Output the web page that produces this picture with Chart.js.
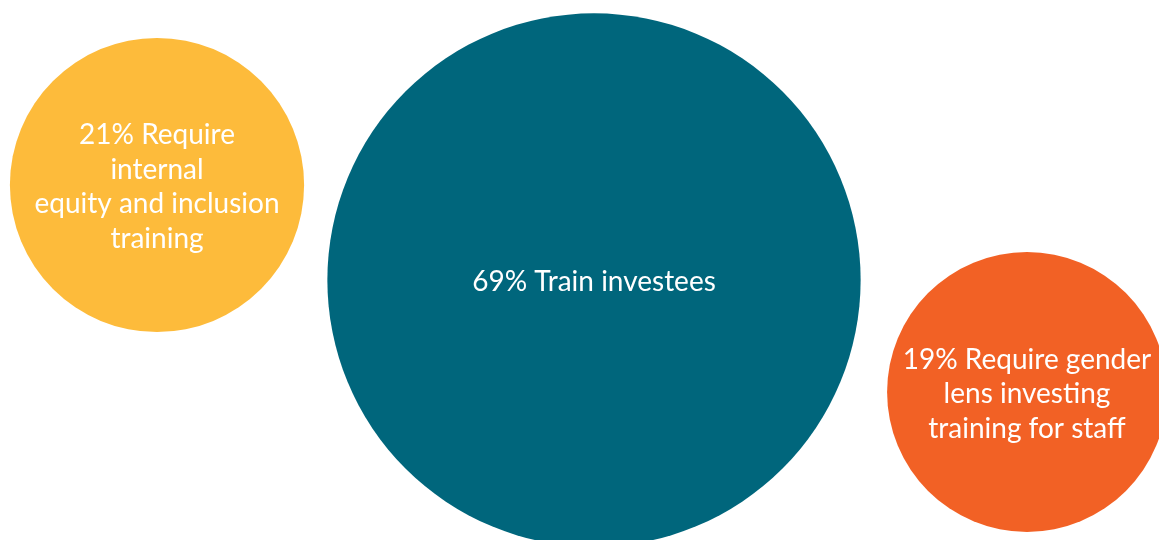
<!DOCTYPE html>
<html>
<head>
<meta charset="utf-8">
<title>Training</title>
<script src="https://cdn.jsdelivr.net/npm/chart.js@4/dist/chart.umd.min.js"></script>
<style>
  html,body{margin:0;padding:0;background:#fff;}
  #wrap{width:1159px;height:540px;}
</style>
</head>
<body>
<div id="wrap"><canvas id="bubbles" width="1159" height="540"></canvas></div>
<script>
  // share of respondents, one bubble each
  const categories = [
    ["21% Require", "internal", "equity and inclusion", "training"],
    ["69% Train investees"],
    ["19% Require gender", "lens investing", "training for staff"]
  ];
  const shares = [21, 69, 19];

  // where each bubble sits on the (hidden) x / y scales
  const bubbleX = [157, 594, 1027];
  const bubbleY = [185, 280, 392];

  const colours = ["#FDBB3B", "#00667C", "#F26125"];

  // bubble area follows the share
  const AREA_K = 32.1;
  const radiusFor = (v)=>AREA_K*Math.sqrt(v);

  const FONT = "Lato, 'Noto Sans', sans-serif";

  const bubbleLabels = {
    id: "bubbleLabels",
    afterDatasetsDraw(chart){
      const ctx = chart.ctx;
      const meta = chart.getDatasetMeta(0);
      ctx.save();
      ctx.fillStyle = "#fff";
      ctx.font = "28px " + FONT;
      ctx.textAlign = "center";
      ctx.textBaseline = "middle";
      const lh = 34.5;
      meta.data.forEach((el, i)=>{
        const lines = categories[i];
        const top = el.y + 2 - (lines.length-1)*lh/2;
        lines.forEach((ln, j)=>ctx.fillText(ln, el.x, top + j*lh));
      });
      ctx.restore();
    }
  };

  new Chart(document.getElementById("bubbles"), {
    type: "bubble",
    data: {
      datasets: [{
        data: shares.map((v, i)=>({x: bubbleX[i], y: bubbleY[i], r: radiusFor(v), v})),
        backgroundColor: colours,
        hoverBackgroundColor: colours,
        borderWidth: 0,
        hoverBorderWidth: 0,
        clip: false
      }]
    },
    options: {
      responsive: false,
      animation: false,
      events: [],
      // big bubbles would otherwise shrink the plot area
      layout: {padding: 0, autoPadding: false},
      plugins: {legend: {display: false}, tooltip: {enabled: false}},
      scales: {
        x: {type: "linear", min: 0, max: 1159, display: false},
        y: {type: "linear", min: 0, max: 540, reverse: true, display: false}
      }
    },
    plugins: [bubbleLabels]
  });
</script>
</body>
</html>
